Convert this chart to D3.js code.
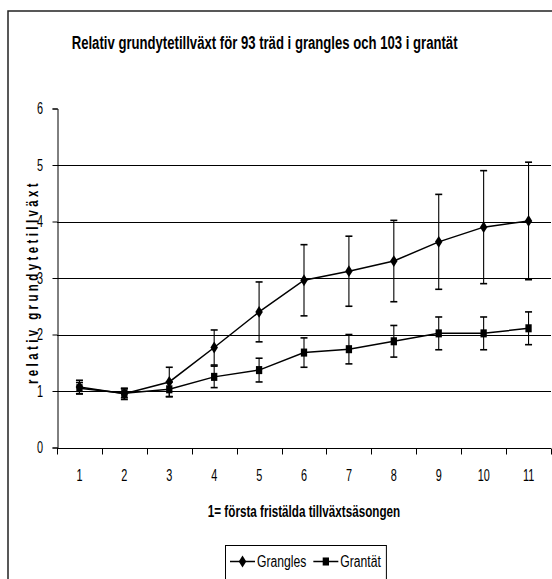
<!DOCTYPE html>
<html lang="sv">
<head>
<meta charset="UTF-8">
<title>Relativ grundytetillväxt</title>
<script src="https://d3js.org/d3.v7.min.js"></script>
<style>
    body { margin: 0; background: #fff; }
    text { font-family: "Liberation Sans", Arial, sans-serif; fill: #000; }
    .sq { transform-box: fill-box; transform-origin: center; }
</style>
</head>
<body>
<svg id="chart"></svg>
<script>
    const width = 552;
    const height = 579;

    // data
    const seasons = ["1", "2", "3", "4", "5", "6", "7", "8", "9", "10", "11"];
    const granglesMean = [1.07, 0.95, 1.16, 1.77, 2.40, 2.96, 3.12, 3.30, 3.64, 3.90, 4.01];
    const granglesErr  = [0.12, 0.10, 0.26, 0.31, 0.53, 0.63, 0.62, 0.72, 0.84, 1.00, 1.04];
    const grantatMean  = [1.05, 0.96, 1.03, 1.25, 1.37, 1.68, 1.74, 1.88, 2.02, 2.02, 2.11];
    const grantatErr   = [0.10, 0.08, 0.13, 0.19, 0.21, 0.26, 0.26, 0.28, 0.29, 0.29, 0.29];
    const yTicks = [0, 1, 2, 3, 4, 5, 6];
    const gridValues = [1, 2, 3, 4, 5];

    const series = [
        {name: "Grangles", mean: granglesMean, err: granglesErr, symbol: "diamond"},
        {name: "Grantät", mean: grantatMean, err: grantatErr, symbol: "square"}
    ];

    const plot = {left: 57, right: 551, top: 108.5, bottom: 447.5};

    const svg = d3.select("#chart")
        .attr("width", width)
        .attr("height", height);

    // outer chart frame
    svg.append("rect")
        .attr("x", 8).attr("y", 11)
        .attr("width", 700).attr("height", 700)
        .attr("fill", "#fff")
        .attr("stroke", "#222")
        .attr("stroke-width", 1.5);

    const x = d3.scaleBand().domain(seasons).range([plot.left, plot.right]);
    const y = d3.scaleLinear().domain([0, 6]).range([plot.bottom, plot.top]);

    // title
    svg.append("text")
        .attr("class", "sq")
        .attr("x", 264.5).attr("y", 49)
        .attr("text-anchor", "middle")
        .style("font-size", "18.5px")
        .style("font-weight", "bold")
        .style("transform", "scaleX(0.71)")
        .text("Relativ grundytetillväxt för 93 träd i grangles och 103 i grantät");

    // gridlines
    svg.append("g")
        .selectAll("line")
        .data(gridValues)
        .join("line")
        .attr("x1", plot.left).attr("x2", plot.right)
        .attr("y1", d => Math.round(y(d)) + 0.5)
        .attr("y2", d => Math.round(y(d)) + 0.5)
        .attr("stroke", "#000")
        .attr("stroke-width", 1);

    // y axis
    const yAxis = svg.append("g")
        .attr("font-family", null)
        .attr("transform", `translate(${plot.left + 0.5},0)`)
        .call(d3.axisLeft(y).tickValues(yTicks).tickSize(5).tickPadding(8).tickFormat(d3.format("d")));
    yAxis.attr("font-family", null);
    yAxis.select(".domain").attr("stroke", "#000");
    yAxis.selectAll("text")
        .attr("class", "sq")
        .style("font-size", "16px")
        .style("transform", "scaleX(0.68)");

    // x axis: labels via axis, ticks on band edges
    const xAxis = svg.append("g")
        .attr("transform", `translate(0,${Math.round(plot.bottom) + 0.5})`)
        .call(d3.axisBottom(x).tickSize(0).tickPadding(21));
    xAxis.attr("font-family", null);
    xAxis.select(".domain").attr("stroke", "#000").attr("d", `M${plot.left},0H${plot.right}`);
    xAxis.selectAll("text")
        .attr("class", "sq")
        .style("font-size", "16px")
        .style("transform", "scaleX(0.68)");
    xAxis.selectAll(".edge")
        .data(seasons.map(s => x(s)).concat([x(seasons[seasons.length - 1]) + x.bandwidth()]))
        .join("line")
        .attr("class", "edge")
        .attr("x1", d => Math.round(d) + 0.5).attr("x2", d => Math.round(d) + 0.5)
        .attr("y1", 0).attr("y2", 6)
        .attr("stroke", "#000");

    // axis titles
    svg.append("text")
        .attr("class", "sq")
        .attr("x", (plot.left + plot.right) / 2).attr("y", 517)
        .attr("text-anchor", "middle")
        .style("font-size", "16px")
        .style("font-weight", "bold")
        .style("transform", "scaleX(0.73)")
        .text("1= första fristälda tillväxtsäsongen");

    svg.append("g")
        .attr("transform", `translate(38,${(plot.top + plot.bottom) / 2 + 4}) rotate(-90)`)
        .append("text")
        .attr("class", "sq")
        .attr("text-anchor", "middle")
        .style("font-size", "16px")
        .style("font-weight", "bold")
        .style("letter-spacing", "4.7px")
        .style("transform", "scaleX(0.72)")
        .text("relativ grundytetillväxt");

    const cx = (d, i) => x(seasons[i]) + x.bandwidth() / 2;
    const symbolPath = s => s === "diamond"
        ? d3.symbol(d3.symbolDiamond, 40)()
        : d3.symbol(d3.symbolSquare, 49)();
    const symbolScale = s => s === "diamond" ? "scale(1.1,1)" : "scale(0.9,1.15)";

    series.forEach(s => {
        const g = svg.append("g");
        const pts = s.mean.map((m, i) => ({i, m, e: s.err[i]}));

        // error bars
        const eb = g.append("g").selectAll("g")
            .data(pts)
            .join("g")
            .attr("stroke", "#000")
            .attr("stroke-width", 1.1);
        eb.append("line")
            .attr("x1", d => cx(d, d.i)).attr("x2", d => cx(d, d.i))
            .attr("y1", d => y(d.m + d.e)).attr("y2", d => y(d.m - d.e));
        eb.append("line")
            .attr("x1", d => cx(d, d.i) - 3.5).attr("x2", d => cx(d, d.i) + 3.5)
            .attr("y1", d => y(d.m + d.e)).attr("y2", d => y(d.m + d.e))
            .attr("stroke-width", 1.6);
        eb.append("line")
            .attr("x1", d => cx(d, d.i) - 3.5).attr("x2", d => cx(d, d.i) + 3.5)
            .attr("y1", d => y(d.m - d.e)).attr("y2", d => y(d.m - d.e))
            .attr("stroke-width", 1.6);

        // line
        g.append("path")
            .datum(pts)
            .attr("fill", "none")
            .attr("stroke", "#000")
            .attr("stroke-width", 1.5)
            .attr("d", d3.line().x(d => cx(d, d.i)).y(d => y(d.m)));

        // markers
        g.selectAll(".mk")
            .data(pts)
            .join("path")
            .attr("class", "mk")
            .attr("d", symbolPath(s.symbol))
            .attr("transform", d => `translate(${cx(d, d.i)},${y(d.m)}) ${symbolScale(s.symbol)}`)
            .attr("fill", "#000");
    });

    // legend
    const legendSqueeze = 0.76;
    const legendBox = {x: 225, y: 545, h: 40};
    const legend = svg.append("g");
    const legendRect = legend.append("rect")
        .attr("x", legendBox.x + 0.5).attr("y", legendBox.y + 0.5)
        .attr("height", legendBox.h)
        .attr("fill", "#fff")
        .attr("stroke", "#000");
    let lx = legendBox.x + 5;
    const ly = legendBox.y + 16.5;
    series.forEach(s => {
        legend.append("line")
            .attr("x1", lx).attr("x2", lx + 25)
            .attr("y1", ly).attr("y2", ly)
            .attr("stroke", "#000").attr("stroke-width", 1.5);
        legend.append("path")
            .attr("d", symbolPath(s.symbol))
            .attr("transform", `translate(${lx + 12.5},${ly}) ${symbolScale(s.symbol)}`)
            .attr("fill", "#000");
        const tx = lx + 27;
        const t = legend.append("text")
            .attr("x", tx).attr("y", ly + 5.5)
            .style("font-size", "16px")
            .text(s.name);
        const w = t.node().getComputedTextLength();
        t.attr("transform", `translate(${tx},0) scale(${legendSqueeze},1) translate(${-tx},0)`);
        lx = tx + w * legendSqueeze + 7;
    });
    legendRect.attr("width", lx - legendBox.x - 2);
</script>
</body>
</html>
